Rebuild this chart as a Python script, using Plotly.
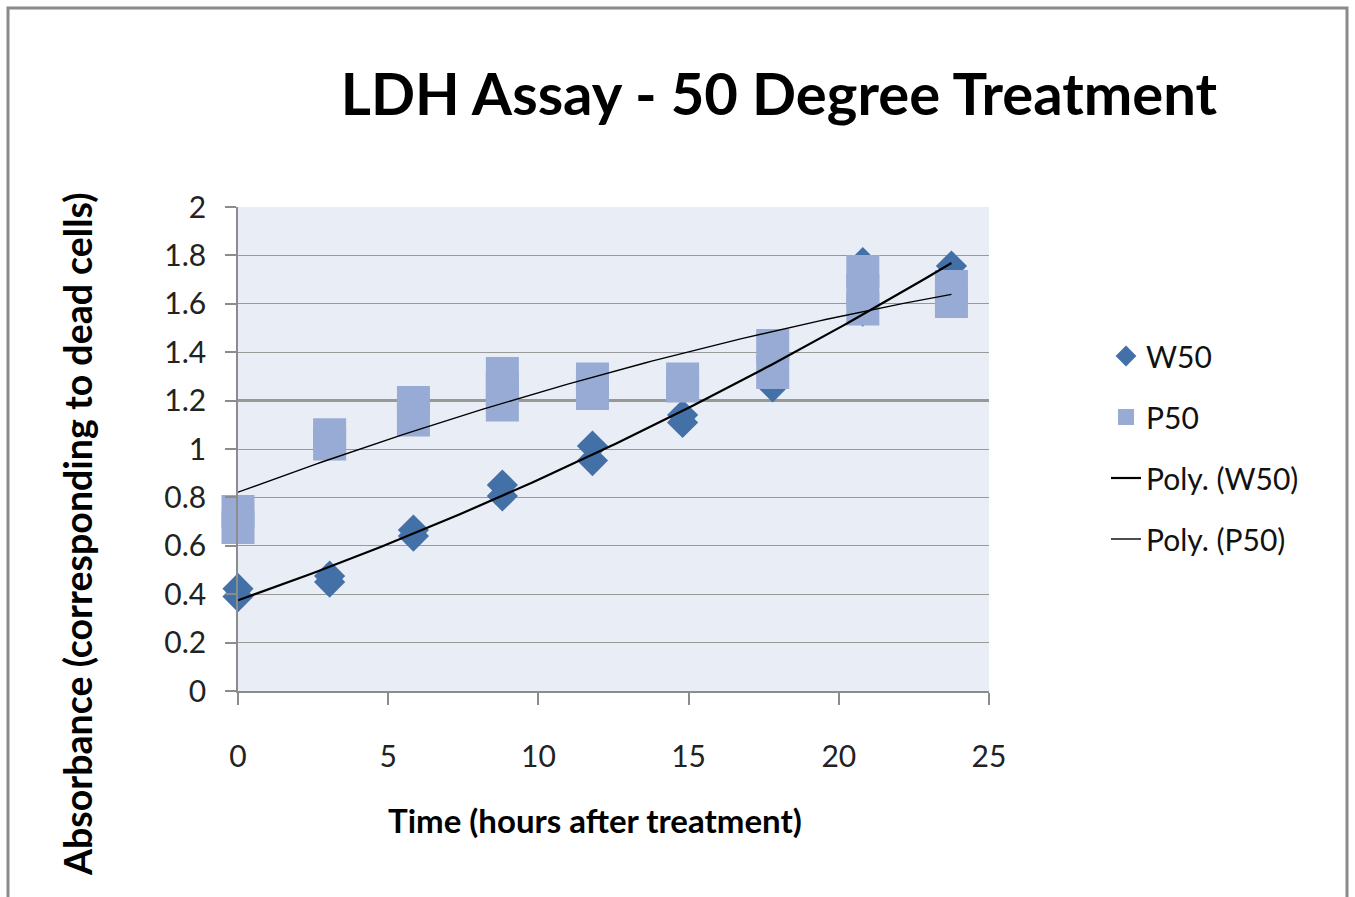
import numpy as np
import plotly.graph_objects as go

# ---- data ----
w50_time = [0, 0, 3.05, 3.05, 5.84, 5.84, 8.8, 8.8, 11.8, 11.8, 14.8, 14.8, 17.8, 17.8, 20.8, 20.8, 23.75, 23.75]
w50_abs  = [0.423, 0.39, 0.475, 0.45, 0.665, 0.64, 0.851, 0.806, 1.012, 0.952, 1.14, 1.11, 1.257, 1.38, 1.77, 1.57, 1.756, 1.66]

p50_time = [0, 0, 3.05, 3.05, 5.84, 5.84, 8.8, 8.8, 8.8, 11.8, 11.8, 14.8, 14.8, 17.8, 17.8, 20.8, 20.8, 20.8, 23.75, 23.75]
p50_abs  = [0.742, 0.676, 1.059, 1.021, 1.192, 1.12, 1.312, 1.25, 1.182, 1.289, 1.229, 1.289, 1.26, 1.428, 1.316, 1.733, 1.655, 1.578, 1.671, 1.61]

x_ticks = [0, 5, 10, 15, 20, 25]
y_ticks = [0, 0.2, 0.4, 0.6, 0.8, 1, 1.2, 1.4, 1.6, 1.8, 2]

FONT = "Lato"

def poly_trend(xs, ys, order=2, n=120):
    c = np.polyfit(xs, ys, order)
    xx = np.linspace(min(xs), max(xs), n)
    return xx, np.polyval(c, xx)

wx, wy = poly_trend(w50_time, w50_abs)
px_, py_ = poly_trend(p50_time, p50_abs)

fig = go.Figure()
fig.add_trace(go.Scatter(x=w50_time, y=w50_abs, mode="markers", name="W50",
                         legendgroup="a", cliponaxis=False,
                         marker=dict(symbol="diamond", size=24, color="#4470A8", line=dict(width=0))))
fig.add_trace(go.Scatter(x=p50_time, y=p50_abs, mode="markers", name="P50",
                         legendgroup="b", cliponaxis=False,
                         marker=dict(symbol="square", size=33, color="#97ABD4", line=dict(width=0))))
fig.add_trace(go.Scatter(x=wx, y=wy, mode="lines", name="Poly. (W50)", legendgroup="c",
                         cliponaxis=False, line=dict(color="black", width=2.2)))
fig.add_trace(go.Scatter(x=px_, y=py_, mode="lines", name="Poly. (P50)", legendgroup="d",
                         cliponaxis=False, line=dict(color="black", width=1.4)))

fig.add_hline(y=1.2, line=dict(color="#7a7a7a", width=2.5), layer="below")

fig.add_shape(type="rect", xref="paper", yref="paper",
              x0=(8 - 238) / 751, x1=(1347 - 238) / 751,
              y0=(691 - 905) / 484, y1=(691 - 8) / 484,
              line=dict(color="#8a8a8a", width=3), fillcolor="rgba(0,0,0,0)", layer="below")

# axis titles placed as annotations (positioned like the reference)
fig.add_annotation(text="<b>Absorbance (corresponding to dead cells)</b>", xref="paper", yref="paper",
                   x=(77 - 238) / 751, y=(691 - 535) / 484, xanchor="center", yanchor="middle",
                   textangle=-90, showarrow=False,
                   font=dict(family=FONT, size=37.5, color="black"))
fig.add_annotation(text="<b>Time (hours after treatment)</b>", xref="paper", yref="paper",
                   x=(595 - 238) / 751, y=(691 - 820) / 484, xanchor="center", yanchor="middle",
                   showarrow=False,
                   font=dict(family=FONT, size=33, color="black"))

fig.update_layout(
    width=1355, height=897,
    margin=dict(l=238, r=366, t=207, b=206),
    paper_bgcolor="white", plot_bgcolor="#E9EDF5",
    font=dict(family=FONT, color="#111111"),
    title=dict(text="<b>LDH Assay - 50 Degree Treatment</b>", xref="paper", x=(779 - 238) / 751,
               xanchor="center", yref="container", y=1 - 95 / 897, yanchor="middle",
               font=dict(family=FONT, size=58, color="black")),
    showlegend=True,
    legend=dict(x=(1106 - 238) / 751, xanchor="left", y=(691 - 330) / 484, yanchor="top",
                font=dict(family=FONT, size=30, color="#111111"),
                tracegroupgap=19, bgcolor="rgba(0,0,0,0)"),
)
fig.update_xaxes(range=[0, 25], tickvals=x_ticks, showgrid=False, zeroline=False,
                 showline=True, linecolor="#8c8c8c", linewidth=1.5,
                 ticks="outside", ticklen=12, tickcolor="#8c8c8c", tickwidth=1.5,
                 ticklabelstandoff=26,
                 tickfont=dict(family=FONT, size=30, color="#222222"))
fig.update_yaxes(range=[0, 2], tickvals=y_ticks, showgrid=True, gridcolor="#999999", gridwidth=1.3,
                 zeroline=False, showline=True, linecolor="#8c8c8c", linewidth=1.5,
                 ticks="outside", ticklen=11, tickcolor="#8c8c8c", tickwidth=1.5,
                 ticklabelstandoff=13,
                 tickfont=dict(family=FONT, size=30, color="#222222"))

fig.write_html("out.html")
